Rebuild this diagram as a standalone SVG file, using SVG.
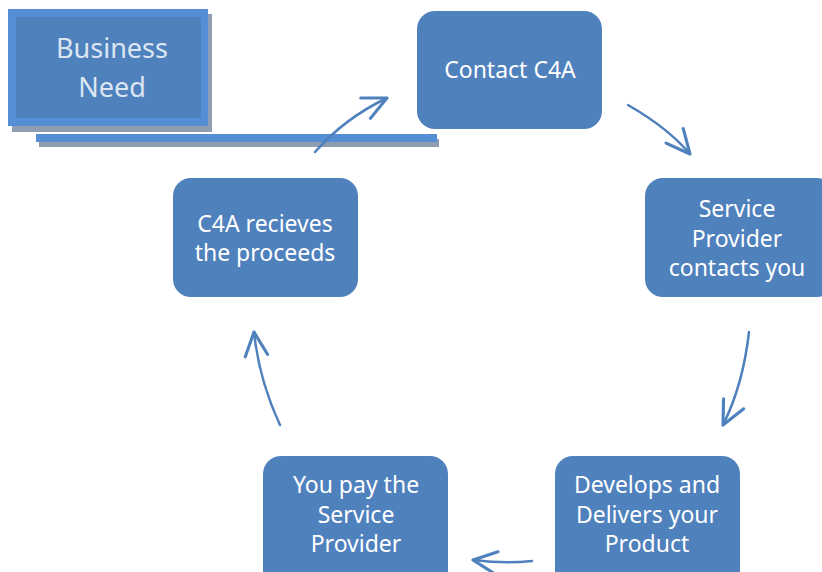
<svg xmlns="http://www.w3.org/2000/svg" width="822" height="572" viewBox="0 0 822 572">
<style>
.box{fill:#4f81bd;}
.t{font-family:"Noto Sans","Open Sans",sans-serif;font-size:23px;fill:#ffffff;text-anchor:middle;}
.bn{font-family:"Noto Sans","Open Sans",sans-serif;font-size:27px;fill:#dce6f2;text-anchor:middle;}
.c{fill:none;stroke:#4f81bd;stroke-width:2.5;stroke-linecap:round;}
</style>
<defs>
<marker id="ah" markerUnits="userSpaceOnUse" markerWidth="30" markerHeight="30" refX="0" refY="0" viewBox="-22 -12 24 24" orient="auto" overflow="visible">
<path d="M-19,-9 L0,0 L-19,9" fill="none" stroke="#4f81bd" stroke-width="2.5" stroke-linecap="round" stroke-linejoin="round"/>
</marker>
</defs>
<rect width="822" height="572" fill="#ffffff"/>
<g id="business-need">
<rect x="12" y="14" width="200" height="118" fill="#8e9db1"/>
<rect x="8" y="9" width="200" height="117" fill="#558ed5"/>
<rect x="16" y="17" width="185" height="101" fill="#4f81bd"/>
<text class="bn" x="112" y="58">Business</text>
<text class="bn" x="112" y="97">Need</text>
</g>
<g id="bar">
<rect x="39" y="139" width="400" height="8" fill="#8e9db1"/>
<rect x="36" y="134" width="401" height="8" fill="#558ed5"/>
</g>
<g id="contact-c4a">
<rect class="box" x="417" y="11" width="185" height="118" rx="18"/>
<text class="t" x="510" y="78">Contact C4A</text>
</g>
<g id="service-provider-contacts">
<rect class="box" x="645" y="178" width="190" height="119" rx="18"/>
<text class="t" x="737" y="217">Service</text>
<text class="t" x="737" y="247">Provider</text>
<text class="t" x="737" y="276">contacts you</text>
</g>
<g id="develops-delivers">
<rect class="box" x="555" y="456" width="185" height="140" rx="18"/>
<text class="t" x="647" y="493">Develops and</text>
<text class="t" x="647" y="523">Delivers your</text>
<text class="t" x="647" y="552">Product</text>
</g>
<g id="you-pay">
<rect class="box" x="263" y="456" width="185" height="140" rx="18"/>
<text class="t" x="356" y="493">You pay the</text>
<text class="t" x="356" y="523">Service</text>
<text class="t" x="356" y="552">Provider</text>
</g>
<g id="c4a-recieves">
<rect class="box" x="173" y="178" width="185" height="119" rx="18"/>
<text class="t" x="265" y="232">C4A recieves</text>
<text class="t" x="265" y="261">the proceeds</text>
</g>
<g id="connectors">
<path class="c" d="M315,152 Q345,118 387,98" marker-end="url(#ah)"/>
<path class="c" d="M628,105 Q668,128 690,154" marker-end="url(#ah)"/>
<path class="c" d="M749,332 Q743,385 723,425" marker-end="url(#ah)"/>
<path class="c" d="M532,561 Q505,564 473,560" marker-end="url(#ah)"/>
<path class="c" d="M280,425 Q259,380 254,332" marker-end="url(#ah)"/>
</g>
</svg>
